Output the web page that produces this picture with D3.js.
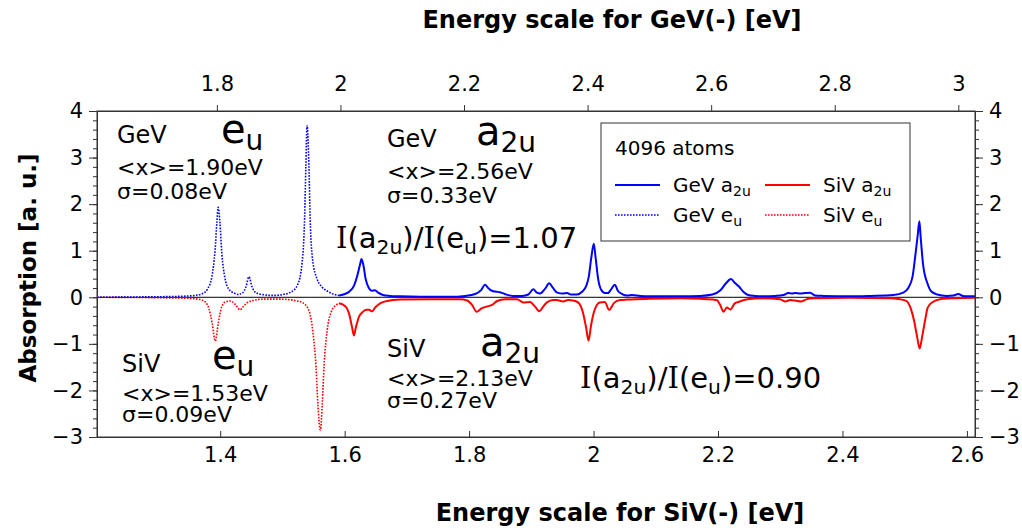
<!DOCTYPE html>
<html>
<head>
<meta charset="utf-8">
<script src="https://cdn.jsdelivr.net/npm/d3@7"></script>
<style>
  html, body { margin: 0; padding: 0; background: #fff; }
  svg { display: block; }
  text { font-family: "DejaVu Sans", sans-serif; fill: #000; }
</style>
</head>
<body>
<svg id="chart" width="1022" height="530"></svg>
<script>
// GeV(-) e_u spectrum (energies on the GeV scale, eV)
const gevEuE = [1.606, 1.692, 1.740, 1.764, 1.777, 1.785, 1.792, 1.797, 1.800, 1.802, 1.805, 1.808, 1.813, 1.819, 1.828, 1.834, 1.842, 1.847, 1.852, 1.857, 1.863, 1.873, 1.891, 1.907, 1.921, 1.931, 1.938, 1.942, 1.944, 1.946, 1.949, 1.951, 1.955, 1.962, 1.970, 1.978, 1.988, 1.998];
const gevEuA = [0.00, 0.01, 0.02, 0.04, 0.08, 0.18, 0.45, 1.00, 1.60, 1.93, 1.60, 0.95, 0.42, 0.18, 0.09, 0.06, 0.10, 0.22, 0.44, 0.22, 0.10, 0.06, 0.04, 0.06, 0.12, 0.28, 0.75, 1.70, 2.80, 3.69, 2.80, 1.70, 0.80, 0.40, 0.22, 0.14, 0.07, 0.04];

// GeV(-) a_2u spectrum
const gevA2uE = [1.998, 2.007, 2.015, 2.022, 2.027, 2.032, 2.034, 2.037, 2.041, 2.046, 2.051, 2.056, 2.061, 2.069, 2.080, 2.096, 2.129, 2.177, 2.202, 2.218, 2.228, 2.234, 2.239, 2.245, 2.252, 2.258, 2.266, 2.279, 2.294, 2.304, 2.312, 2.318, 2.323, 2.331, 2.338, 2.344, 2.351, 2.360, 2.367, 2.373, 2.383, 2.391, 2.398, 2.402, 2.406, 2.410, 2.413, 2.417, 2.422, 2.428, 2.433, 2.438, 2.444, 2.449, 2.456, 2.464, 2.472, 2.485, 2.501, 2.550, 2.582, 2.602, 2.615, 2.624, 2.632, 2.639, 2.645, 2.652, 2.660, 2.671, 2.684, 2.704, 2.717, 2.725, 2.731, 2.736, 2.744, 2.752, 2.760, 2.768, 2.781, 2.825, 2.858, 2.895, 2.911, 2.919, 2.926, 2.930, 2.934, 2.937, 2.939, 2.943, 2.950, 2.956, 2.966, 2.981, 2.992, 3.000, 3.007, 3.016, 3.027];
const gevA2uA = [0.04, 0.07, 0.13, 0.25, 0.45, 0.72, 0.82, 0.70, 0.38, 0.20, 0.14, 0.15, 0.10, 0.05, 0.03, 0.02, 0.01, 0.01, 0.03, 0.07, 0.16, 0.27, 0.20, 0.14, 0.12, 0.11, 0.07, 0.03, 0.03, 0.06, 0.17, 0.10, 0.08, 0.18, 0.30, 0.20, 0.10, 0.08, 0.09, 0.06, 0.06, 0.12, 0.25, 0.45, 0.85, 1.15, 0.85, 0.40, 0.16, 0.09, 0.09, 0.17, 0.27, 0.14, 0.07, 0.04, 0.05, 0.03, 0.02, 0.02, 0.03, 0.06, 0.15, 0.30, 0.39, 0.30, 0.23, 0.12, 0.05, 0.03, 0.02, 0.03, 0.05, 0.09, 0.08, 0.09, 0.08, 0.09, 0.10, 0.04, 0.03, 0.02, 0.03, 0.05, 0.10, 0.20, 0.45, 0.85, 1.30, 1.63, 1.30, 0.70, 0.30, 0.13, 0.06, 0.03, 0.04, 0.07, 0.03, 0.02, 0.02];

// SiV(-) e_u spectrum (energies on the SiV scale, eV; drawn downward)
const sivEuE = [1.202, 1.304, 1.344, 1.365, 1.376, 1.382, 1.387, 1.392, 1.397, 1.402, 1.408, 1.416, 1.422, 1.427, 1.432, 1.437, 1.443, 1.453, 1.469, 1.496, 1.520, 1.533, 1.543, 1.549, 1.554, 1.557, 1.561, 1.564, 1.567, 1.572, 1.578, 1.586, 1.591];
const sivEuA = [0.00, -0.01, -0.02, -0.04, -0.10, -0.25, -0.55, -0.94, -0.55, -0.22, -0.10, -0.08, -0.12, -0.20, -0.27, -0.20, -0.12, -0.07, -0.04, -0.04, -0.07, -0.12, -0.30, -0.75, -1.50, -2.30, -2.85, -2.30, -1.45, -0.70, -0.33, -0.17, -0.13];

// SiV(-) a_2u spectrum
const sivA2uE = [1.591, 1.601, 1.607, 1.612, 1.615, 1.618, 1.623, 1.628, 1.635, 1.639, 1.644, 1.649, 1.657, 1.668, 1.689, 1.737, 1.786, 1.797, 1.805, 1.812, 1.820, 1.828, 1.836, 1.845, 1.858, 1.877, 1.887, 1.898, 1.906, 1.913, 1.919, 1.925, 1.935, 1.941, 1.951, 1.959, 1.967, 1.975, 1.983, 1.988, 1.992, 1.996, 2.001, 2.010, 2.018, 2.025, 2.033, 2.043, 2.054, 2.070, 2.091, 2.139, 2.171, 2.192, 2.198, 2.203, 2.209, 2.214, 2.220, 2.227, 2.235, 2.247, 2.272, 2.300, 2.308, 2.316, 2.324, 2.334, 2.343, 2.353, 2.412, 2.476, 2.492, 2.503, 2.510, 2.515, 2.520, 2.524, 2.528, 2.533, 2.537, 2.544, 2.557, 2.581, 2.613];
const sivA2uA = [-0.13, -0.19, -0.35, -0.65, -0.82, -0.65, -0.42, -0.33, -0.27, -0.27, -0.30, -0.22, -0.13, -0.08, -0.05, -0.04, -0.04, -0.07, -0.17, -0.31, -0.24, -0.20, -0.17, -0.08, -0.04, -0.04, -0.11, -0.10, -0.20, -0.30, -0.20, -0.11, -0.06, -0.06, -0.09, -0.06, -0.07, -0.11, -0.33, -0.65, -0.93, -0.60, -0.30, -0.11, -0.10, -0.27, -0.12, -0.06, -0.05, -0.04, -0.03, -0.02, -0.03, -0.05, -0.06, -0.15, -0.31, -0.22, -0.26, -0.13, -0.09, -0.04, -0.02, -0.04, -0.09, -0.06, -0.07, -0.09, -0.04, -0.02, -0.01, -0.02, -0.04, -0.08, -0.25, -0.50, -0.85, -1.10, -0.85, -0.48, -0.22, -0.11, -0.04, -0.02, -0.01];

// Axis ticks
const sivTicks = [1.4, 1.6, 1.8, 2.0, 2.2, 2.4, 2.6];
const sivTickLabels = ["1.4", "1.6", "1.8", "2", "2.2", "2.4", "2.6"];
const gevTicks = [1.8, 2.0, 2.2, 2.4, 2.6, 2.8, 3.0];
const gevTickLabels = ["1.8", "2", "2.2", "2.4", "2.6", "2.8", "3"];
const yTicks = [-3, -2, -1, 0, 1, 2, 3, 4];
const yMinorTicks = d3.range(-30, 41, 2).map(v => v / 10);

const svg = d3.select("#chart");
const L = 97, R = 975, T = 111, B = 437;

const xS = d3.scaleLinear().domain([1.202, 2.613]).range([L, R]);
const xG = d3.scaleLinear().domain([1.606, 3.027]).range([L, R]);
const y = d3.scaleLinear().domain([-3, 4]).range([B, T]);

svg.append("rect").attr("width", 1022).attr("height", 530).attr("fill", "#fff");

// zero line
svg.append("line")
  .attr("x1", L).attr("x2", R).attr("y1", y(0)).attr("y2", y(0))
  .attr("stroke", "#000").attr("stroke-width", 1);

svg.append("clipPath").attr("id", "plotclip")
  .append("rect").attr("x", L).attr("y", T).attr("width", R - L).attr("height", B - T);

const plot = svg.append("g").attr("clip-path", "url(#plotclip)");

function drawSeries(xs, es, as, color, dotted) {
  const pts = es.map((e, i) => [xs(e), y(as[i])]);
  const line = d3.line().curve(d3.curveMonotoneX);
  plot.append("path")
    .attr("d", line(pts))
    .attr("fill", "none")
    .attr("stroke", color)
    .attr("stroke-width", dotted ? 1.6 : 2)
    .attr("stroke-dasharray", dotted ? "1.6,1.4" : null)
    .attr("stroke-linejoin", "round");
}

drawSeries(xS, sivEuE, sivEuA, "#ff0000", true);
drawSeries(xS, sivA2uE, sivA2uA, "#ff0000", false);
drawSeries(xG, gevEuE, gevEuA, "#0000ff", true);
drawSeries(xG, gevA2uE, gevA2uA, "#0000ff", false);

// frame
svg.append("rect").attr("x", L).attr("y", T).attr("width", R - L).attr("height", B - T)
  .attr("fill", "none").attr("stroke", "#333").attr("stroke-width", 1);

const tickFont = 21;
const yFmt = d3.format("d");

// bottom axis (SiV scale), ticks pointing inward
svg.append("g").attr("transform", `translate(0,${B})`)
  .call(d3.axisBottom(xS).tickValues(sivTicks)
    .tickFormat((d, i) => sivTickLabels[i]).tickSizeInner(-6).tickSizeOuter(0).tickPadding(10));
// top axis (GeV scale), ticks pointing outward
svg.append("g").attr("transform", `translate(0,${T})`)
  .call(d3.axisTop(xG).tickValues(gevTicks)
    .tickFormat((d, i) => gevTickLabels[i]).tickSizeInner(6).tickSizeOuter(0).tickPadding(14));
// left and right y axes
svg.append("g").attr("transform", `translate(${L},0)`)
  .call(d3.axisLeft(y).tickValues(yTicks).tickFormat(yFmt).tickSizeInner(8).tickSizeOuter(0).tickPadding(6));
svg.append("g").attr("transform", `translate(${R},0)`)
  .call(d3.axisRight(y).tickValues(yTicks).tickFormat(yFmt).tickSizeInner(8).tickSizeOuter(0).tickPadding(6));
// minor y ticks
svg.append("g").attr("transform", `translate(${L},0)`)
  .call(d3.axisLeft(y).tickValues(yMinorTicks).tickSizeInner(4).tickSizeOuter(0).tickFormat(""));
svg.append("g").attr("transform", `translate(${R},0)`)
  .call(d3.axisRight(y).tickValues(yMinorTicks).tickSizeInner(4).tickSizeOuter(0).tickFormat(""));

svg.selectAll(".domain").attr("stroke", "#333");
svg.selectAll(".tick line").attr("stroke", "#333");
svg.selectAll(".tick text")
  .style("font-family", "'DejaVu Sans', sans-serif")
  .style("font-size", tickFont + "px").attr("fill", "#000");

// axis titles
svg.append("text").attr("x", 612).attr("y", 28).attr("text-anchor", "middle")
  .style("font-size", "24px").style("font-weight", "bold")
  .text("Energy scale for GeV(-) [eV]");
svg.append("text").attr("x", 620).attr("y", 521).attr("text-anchor", "middle")
  .style("font-size", "24px").style("font-weight", "bold")
  .text("Energy scale for SiV(-) [eV]");
svg.append("text")
  .attr("transform", "translate(36,268) rotate(-90)")
  .attr("text-anchor", "middle")
  .style("font-size", "23px").style("font-weight", "bold")
  .text("Absorption [a. u.]");

// annotation helpers
function plain(x, yy, txt, size) {
  return svg.append("text").attr("x", x).attr("y", yy).style("font-size", size + "px").text(txt);
}
function symbol(x, yy, base, sub, size) {
  const t = svg.append("text").attr("x", x).attr("y", yy).style("font-size", size + "px");
  t.append("tspan").text(base);
  t.append("tspan").attr("dy", size * 0.18).style("font-size", (size * 0.7) + "px").text(sub);
  return t;
}
function ratio(x, yy, value, size) {
  const t = svg.append("text").attr("x", x).attr("y", yy).style("font-size", size + "px");
  const sub = size * 0.7, shift = size * 0.2;
  t.append("tspan").style("font-family", "'DejaVu Serif', serif").text("I");
  t.append("tspan").text("(a");
  t.append("tspan").attr("dy", shift).style("font-size", sub + "px").text("2u");
  t.append("tspan").attr("dy", -shift).text(")/");
  t.append("tspan").style("font-family", "'DejaVu Serif', serif").text("I");
  t.append("tspan").text("(e");
  t.append("tspan").attr("dy", shift).style("font-size", sub + "px").text("u");
  t.append("tspan").attr("dy", -shift).text(")=" + value);
}

// GeV e_u block
plain(117, 143, "GeV", 24);
symbol(221, 143, "e", "u", 40);
plain(117, 175, "<x>=1.90eV", 22);
plain(117, 199, "σ=0.08eV", 22);

// GeV a_2u block
plain(387, 147, "GeV", 24);
symbol(476, 145, "a", "2u", 40);
plain(387, 179, "<x>=2.56eV", 22);
plain(387, 203, "σ=0.33eV", 22);
ratio(336, 248, "1.07", 29);

// SiV e_u block
plain(122, 372, "SiV", 24);
symbol(212, 369, "e", "u", 40);
plain(122, 401, "<x>=1.53eV", 22);
plain(122, 422, "σ=0.09eV", 22);

// SiV a_2u block
plain(387, 357, "SiV", 24);
symbol(480, 356, "a", "2u", 40);
plain(387, 386, "<x>=2.13eV", 22);
plain(387, 408, "σ=0.27eV", 22);
ratio(580, 388, "0.90", 29);

// legend
const lg = svg.append("g");
lg.append("rect").attr("x", 601).attr("y", 123).attr("width", 309).attr("height", 118)
  .attr("fill", "#fff").attr("stroke", "#333").attr("stroke-width", 1);
plain(615, 155, "4096 atoms", 20);
const legendItems = [
  { x: 615, yy: 185, color: "#0000ff", dotted: false, name: "GeV a", sub: "2u" },
  { x: 765, yy: 185, color: "#ff0000", dotted: false, name: "SiV a", sub: "2u" },
  { x: 615, yy: 215, color: "#0000ff", dotted: true, name: "GeV e", sub: "u" },
  { x: 765, yy: 215, color: "#ff0000", dotted: true, name: "SiV e", sub: "u" }
];
legendItems.forEach(d => {
  lg.append("line").attr("x1", d.x).attr("x2", d.x + 45).attr("y1", d.yy).attr("y2", d.yy)
    .attr("stroke", d.color).attr("stroke-width", d.dotted ? 1.6 : 2)
    .attr("stroke-dasharray", d.dotted ? "1.6,1.4" : null);
  const t = lg.append("text").attr("x", d.x + 58).attr("y", d.yy + 7).style("font-size", "20px");
  t.append("tspan").text(d.name);
  t.append("tspan").attr("dy", 4).style("font-size", "14px").text(d.sub);
});
</script>
</body>
</html>
